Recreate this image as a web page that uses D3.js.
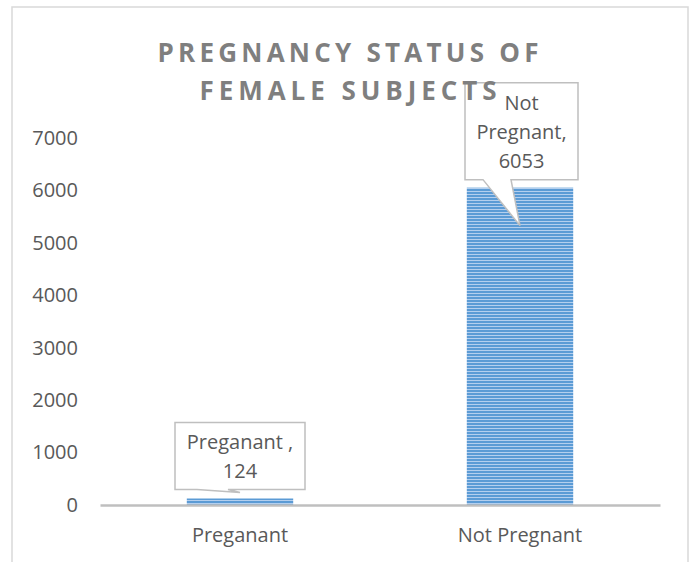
<!DOCTYPE html>
<html>
<head>
<meta charset="utf-8">
<script src="https://cdn.jsdelivr.net/npm/d3@7"></script>
<style>
  body { margin: 0; background: #fff; }
  text { font-family: 'Open Sans', 'Noto Sans', sans-serif; }
</style>
</head>
<body>
<svg id="chart" width="697" height="562"></svg>
<script>
const categories = ['Preganant', 'Not Pregnant']
const values = [124, 6053]
const calloutLines = [['Preganant ,', '124'], ['Not', 'Pregnant,', '6053']]
const yTicks = [0, 1000, 2000, 3000, 4000, 5000, 6000, 7000]
const titleLines = ['PREGNANCY STATUS OF', 'FEMALE SUBJECTS']

const margins = { top: 138, right: 37, bottom: 57, left: 100 }
const W = 697, H = 562
const width = W - margins.left - margins.right
const height = H - margins.top - margins.bottom
const textColor = '#595959'
const fontSize = '20px'

const svg = d3.select('#chart')

// stripe fill for the bars
const defs = svg.append('defs')
const pat = defs.append('pattern').attr('id', 'stripes')
  .attr('patternUnits', 'userSpaceOnUse').attr('width', 6).attr('height', 3)
pat.append('rect').attr('width', 6).attr('height', 3).attr('fill', '#b4cfee')
pat.append('rect').attr('width', 6).attr('height', 2).attr('fill', '#5b9bd5')

// chart frame
svg.append('rect').attr('x', 12).attr('y', 7).attr('width', 676).attr('height', 570)
  .attr('fill', 'none').attr('stroke', '#d9d9d9').attr('stroke-width', 1.5)

const g = svg.append('g').attr('transform', `translate(${margins.left},${margins.top})`)

const x = d3.scaleBand().domain(categories).range([0, width]).paddingInner(0.62).paddingOuter(0.31)
const y = d3.scaleLinear().domain([0, 7000]).range([height, 0])

const yAxis = g.append('g').call(d3.axisLeft(y).tickValues(yTicks).tickFormat(d3.format('d')).tickSize(0).tickPadding(22))
yAxis.select('.domain').remove()
yAxis.selectAll('text').attr('fill', textColor).style('font-size', fontSize)

g.selectAll('.bar').data(values).enter().append('rect')
  .attr('class', 'bar')
  .attr('x', (d, i) => x(categories[i]))
  .attr('width', x.bandwidth())
  .attr('y', d => y(d))
  .attr('height', d => height - y(d))
  .attr('fill', 'url(#stripes)')

const xAxis = g.append('g').attr('transform', `translate(0,${height})`)
  .call(d3.axisBottom(x).tickSize(0).tickPadding(23))
xAxis.select('.domain').attr('stroke', '#bfbfbf').attr('stroke-width', 2.5)
xAxis.selectAll('text').attr('fill', textColor).style('font-size', fontSize)

// callouts
const boxes = [
  { w: 130, h: 67, gap: 9, dx: -65, baseL: -43, baseR: -12 },
  { w: 113, h: 97, gap: 45, dx: -55, baseL: -37, baseR: -9 }
]
values.forEach((v, i) => {
  const b = boxes[i]
  const cx = x(categories[i]) + x.bandwidth() / 2
  const tipY = y(v) + (i === 0 ? -6 : 38)
  const bottom = y(v) - b.gap + (i === 0 ? 0 : 37)
  const left = cx + b.dx
  const top = bottom - b.h
  const right = left + b.w
  const path = [[left, top], [right, top], [right, bottom], [cx + b.baseR, bottom],
    [cx, tipY], [cx + b.baseL, bottom], [left, bottom]]
  g.append('path').attr('d', d3.line()(path) + 'Z')
    .attr('fill', '#fff').attr('stroke', '#bfbfbf').attr('stroke-width', 1.5)
  const lines = calloutLines[i]
  const lh = 29
  const startY = (top + bottom) / 2 - (lines.length - 1) * lh / 2 + 8
  g.append('g').selectAll('text').data(lines).enter().append('text')
    .attr('x', left + b.w / 2).attr('y', (d, j) => startY + j * lh)
    .attr('text-anchor', 'middle').attr('fill', textColor).style('font-size', fontSize)
    .text(d => d)
})

// title goes last so it sits over the callout box
const titleWidths = [381, 297]
svg.append('g').selectAll('text').data(titleLines).enter().append('text')
  .attr('x', 348).attr('y', (d, i) => 62 + i * 38)
  .attr('text-anchor', 'middle').attr('fill', '#7f7f7f')
  .attr('textLength', (d, i) => titleWidths[i]).attr('lengthAdjust', 'spacing')
  .style('font-size', '26px').style('font-weight', 'bold')
  .text(d => d)
</script>
</body>
</html>
